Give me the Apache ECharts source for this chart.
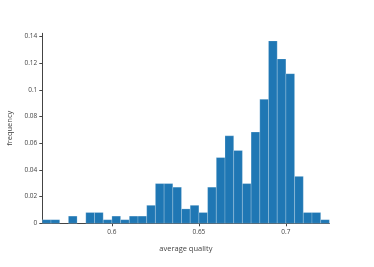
<!DOCTYPE html>
<html><head><meta charset="utf-8">
<script src="https://cdn.jsdelivr.net/npm/echarts@6/dist/echarts.min.js"></script>
<style>html,body{margin:0;padding:0;background:#fff}#c{width:374px;height:267px}</style>
</head><body><div id="c"></div>
<script>
const binStart = 0.56;
const binWidth = 0.005;
const frequency = [0.0027,0.0027,0,0.0054,0,0.0081,0.0081,0.0027,0.0054,0.0027,0.0054,0.0054,
  0.0135,0.0298,0.0298,0.0271,0.0108,0.0135,0.0081,0.0271,0.0493,0.0656,0.0546,0.0298,
  0.0684,0.0930,0.1368,0.1233,0.1122,0.0352,0.0081,0.0081,0.0027];
const xTicks = [0.6, 0.65, 0.7];
const yTicks = [0, 0.02, 0.04, 0.06, 0.08, 0.1, 0.12, 0.14];

const data = frequency.map((v, i) => [binStart + i * binWidth, binStart + (i + 1) * binWidth, v]);
const chart = echarts.init(document.getElementById('c'));
const font = '"Open Sans", sans-serif';
chart.setOption({
  animation: false,
  grid: {left: 42.3, right: 44.6, top: 33.3, bottom: 43.7, containLabel: false, outerBoundsMode: 'none'},
  xAxis: {
    type: 'value', min: 0.56, max: 0.725, interval: 0.005,
    axisLine: {show: true, lineStyle: {color: '#444', width: 1}},
    axisTick: {show: true, length: 3, lineStyle: {color: '#444'},
      customValues: xTicks},
    axisLabel: {color: '#444', fontSize: 6.5, fontFamily: font, margin: 5,
      customValues: xTicks, formatter: v => String(+v.toFixed(2))},
    splitLine: {show: false},
    name: 'average quality', nameLocation: 'middle', nameGap: 22,
    nameTextStyle: {color: '#444', fontSize: 7.5, fontFamily: font}
  },
  yAxis: {
    type: 'value', min: 0, max: 0.1425, interval: 0.02,
    axisLine: {show: true, lineStyle: {color: '#444', width: 1}},
    axisTick: {show: true, length: 3, lineStyle: {color: '#444'}, customValues: yTicks},
    axisLabel: {color: '#444', fontSize: 6.5, fontFamily: font, margin: 5,
      customValues: yTicks, formatter: v => String(+v.toFixed(2))},
    splitLine: {show: false},
    name: 'frequency', nameLocation: 'middle', nameGap: 28,
    nameTextStyle: {color: '#444', fontSize: 7.5, fontFamily: font}
  },
  series: [{
    type: 'custom',
    data: data,
    encode: {x: [0, 1], y: 2},
    renderItem: function (params, api) {
      const v = api.value(2);
      if (!v) return null;
      const p0 = api.coord([api.value(0), v]);
      const p1 = api.coord([api.value(1), 0]);
      return {
        type: 'rect',
        shape: {x: p0[0], y: p0[1], width: p1[0] - p0[0], height: p1[1] - p0[1]},
        style: {fill: '#1f77b4', stroke: 'rgba(255,255,255,0.4)', lineWidth: 0.5}
      };
    }
  }]
});
</script></body></html>
